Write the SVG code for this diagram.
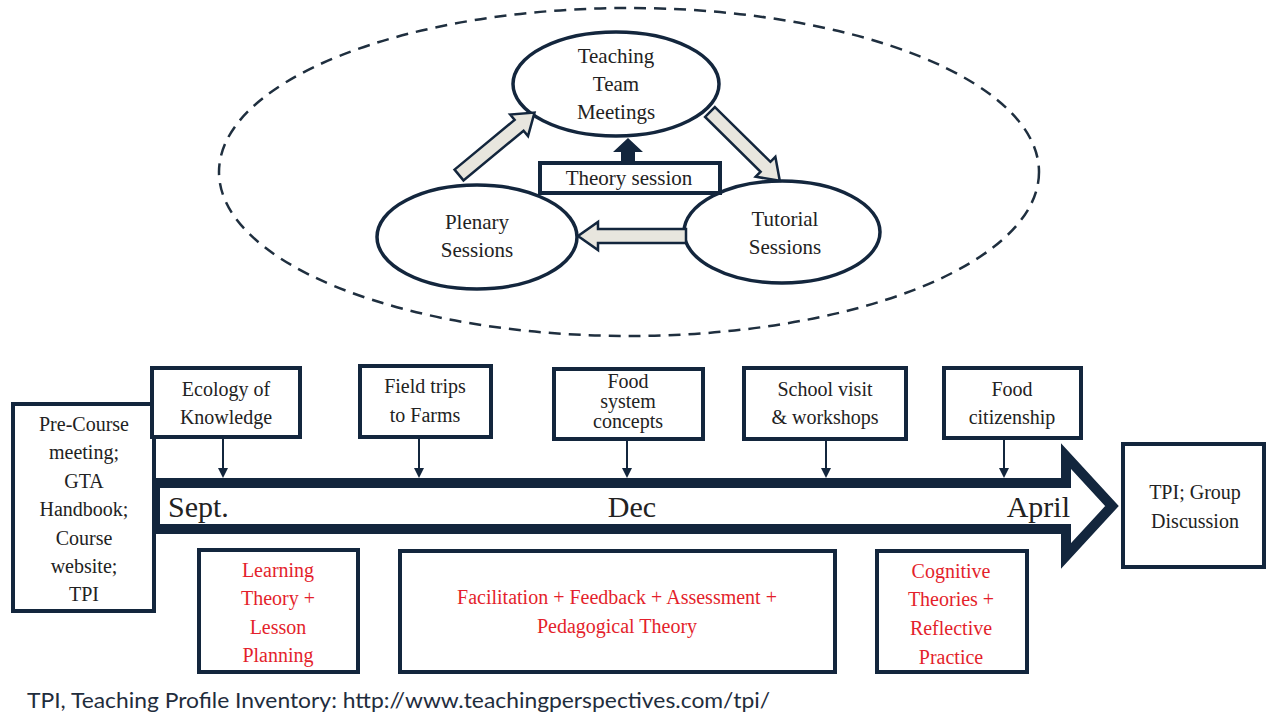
<svg xmlns="http://www.w3.org/2000/svg" width="1267" height="715" viewBox="0 0 1267 715">
<style>
.t{font-family:"Liberation Serif","DejaVu Serif",serif;fill:#222;text-anchor:middle}
.s21{font-size:21px}
.s20{font-size:20px}
.r{fill:#e41f2c}
.box{fill:#fff;stroke:#13263d;stroke-width:4}
.ell{fill:#fff;stroke:#13263d;stroke-width:3.5}
.blk{fill:#e8e6de;stroke:#13263d;stroke-width:2.5;stroke-linejoin:miter}
.tick{stroke:#13263d;stroke-width:2}
</style>
<defs>
<marker id="ah" markerWidth="10" markerHeight="10" refX="8" refY="5" orient="auto" markerUnits="userSpaceOnUse">
<path d="M0,0 L10,5 L0,10 z" fill="#13263d"/>
</marker>
</defs>
<rect width="1267" height="715" fill="#fff"/>

<g id="cycle-boundary">
<ellipse cx="629" cy="172" rx="410" ry="164" fill="none" stroke="#1f2f3f" stroke-width="2.5" stroke-dasharray="12 8"/>
</g>

<g id="teaching-team-meetings">
<ellipse class="ell" cx="616" cy="84" rx="103" ry="52"/>
<text class="t s21" x="616" y="63">Teaching</text>
<text class="t s21" x="616" y="91">Team</text>
<text class="t s21" x="616" y="119">Meetings</text>
</g>
<g id="plenary-sessions">
<ellipse class="ell" cx="477" cy="237" rx="100" ry="52"/>
<text class="t s21" x="477" y="229">Plenary</text>
<text class="t s21" x="477" y="257">Sessions</text>
</g>
<g id="tutorial-sessions">
<ellipse class="ell" cx="782" cy="232" rx="98" ry="51"/>
<text class="t s21" x="785" y="226">Tutorial</text>
<text class="t s21" x="785" y="254">Sessions</text>
</g>
<g id="theory-session">
<rect class="box" x="540" y="163" width="180" height="30" stroke-width="3.5"/>
<text class="t s21" x="629" y="185">Theory session</text>
</g>

<g id="cycle-connectors">
<polygon class="blk" transform="translate(459,175) rotate(-39.6)" points="0,-7 78,-7 78,-14 98,0 78,14 78,7 0,7"/>
<polygon class="blk" transform="translate(710,112) rotate(44.6)" points="0,-7 78,-7 78,-14 98,0 78,14 78,7 0,7"/>
<polygon class="blk" points="686,229 598,229 598,222 578,236 598,250 598,243 686,243"/>
<polygon fill="#13263d" points="621,163 621,152 613,152 628,138 643,152 635,152 635,163"/>
</g>

<g id="timeline">
<polygon points="155,483 1066,483 1066,456 1112,506 1066,556 1066,529 155,529" fill="#fff" stroke="#13263d" stroke-width="10" stroke-linejoin="miter"/>
<text class="t" x="168" y="517" font-size="30" style="text-anchor:start">Sept.</text>
<text class="t" x="632" y="517" font-size="30">Dec</text>
<text class="t" x="1070" y="517" font-size="30" style="text-anchor:end">April</text>
</g>

<g id="pre-course">
<rect class="box" x="13" y="404" width="141" height="207"/>
<text class="t s20" x="84" y="431">Pre-Course</text>
<text class="t s20" x="84" y="459">meeting;</text>
<text class="t s20" x="84" y="488">GTA</text>
<text class="t s20" x="84" y="516">Handbook;</text>
<text class="t s20" x="84" y="545">Course</text>
<text class="t s20" x="84" y="573">website;</text>
<text class="t s20" x="84" y="601">TPI</text>
</g>
<g id="ecology">
<rect class="box" x="152" y="368" width="148" height="69"/>
<text class="t s20" x="226" y="396">Ecology of</text>
<text class="t s20" x="226" y="424">Knowledge</text>
</g>
<g id="field-trips">
<rect class="box" x="360" y="366" width="131" height="71"/>
<text class="t s20" x="425" y="393">Field trips</text>
<text class="t s20" x="425" y="422">to Farms</text>
</g>
<g id="food-system">
<rect class="box" x="554" y="369" width="149" height="70"/>
<text class="t s20" x="628" y="388">Food</text>
<text class="t s20" x="628" y="408">system</text>
<text class="t s20" x="628" y="428">concepts</text>
</g>
<g id="school-visit">
<rect class="box" x="744" y="368" width="162" height="71"/>
<text class="t s20" x="825" y="396">School visit</text>
<text class="t s20" x="825" y="424">&amp; workshops</text>
</g>
<g id="food-citizenship">
<rect class="box" x="944" y="368" width="137" height="70"/>
<text class="t s20" x="1012" y="396">Food</text>
<text class="t s20" x="1012" y="424">citizenship</text>
</g>
<g id="tpi-group">
<rect class="box" x="1123" y="444" width="141" height="123"/>
<text class="t s20" x="1195" y="499">TPI; Group</text>
<text class="t s20" x="1195" y="528">Discussion</text>
</g>

<g id="timeline-connectors">
<line class="tick" x1="223" y1="439" x2="223" y2="476" marker-end="url(#ah)"/>
<line class="tick" x1="419" y1="439" x2="419" y2="476" marker-end="url(#ah)"/>
<line class="tick" x1="627" y1="441" x2="627" y2="476" marker-end="url(#ah)"/>
<line class="tick" x1="826" y1="441" x2="826" y2="476" marker-end="url(#ah)"/>
<line class="tick" x1="1004" y1="440" x2="1004" y2="476" marker-end="url(#ah)"/>
</g>

<g id="learning-theory">
<rect class="box" x="199" y="550" width="159" height="122"/>
<text class="t s20 r" x="278" y="577">Learning</text>
<text class="t s20 r" x="278" y="605">Theory +</text>
<text class="t s20 r" x="278" y="634">Lesson</text>
<text class="t s20 r" x="278" y="662">Planning</text>
</g>
<g id="facilitation">
<rect class="box" x="400" y="551" width="435" height="121"/>
<text class="t s20 r" x="617" y="604">Facilitation + Feedback + Assessment +</text>
<text class="t s20 r" x="617" y="633">Pedagogical Theory</text>
</g>
<g id="cognitive">
<rect class="box" x="877" y="551" width="150" height="121"/>
<text class="t s20 r" x="951" y="578">Cognitive</text>
<text class="t s20 r" x="951" y="606">Theories +</text>
<text class="t s20 r" x="951" y="635">Reflective</text>
<text class="t s20 r" x="951" y="664">Practice</text>
</g>

<text x="27" y="708" font-family="Lato,'Open Sans',sans-serif" font-size="22" fill="#1f2d3d" textLength="743" lengthAdjust="spacingAndGlyphs">TPI, Teaching Profile Inventory: http://www.teachingperspectives.com/tpi/</text>
</svg>
